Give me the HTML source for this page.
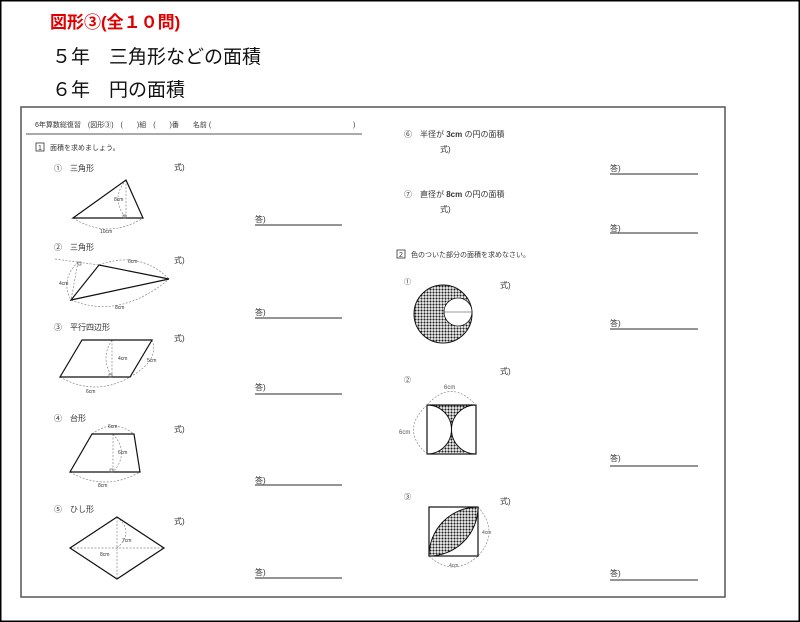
<!DOCTYPE html>
<html><head><meta charset="utf-8"><style>
html,body{margin:0;padding:0;background:#fff;}
svg{display:block;}
text{font-family:"Liberation Sans","Noto Sans CJK JP",sans-serif;fill:#333;}
</style></head><body>
<svg width="800" height="622" viewBox="0 0 800 622" xmlns="http://www.w3.org/2000/svg">
<defs>
<pattern id="dots" width="3" height="3" patternUnits="userSpaceOnUse">
<rect width="3" height="3" fill="#fff"/><circle cx="1.5" cy="1.5" r="1.1" fill="#222"/>
</pattern>
</defs>
<rect x="0.75" y="0.75" width="798.5" height="620.5" fill="none" stroke="#000" stroke-width="1.5"/>
<text x="50" y="28" font-size="17" font-weight="bold" style="fill:#e00000">図形③(全１０問)</text>
<text x="52" y="63" font-size="19" style="fill:#111">５年　三角形などの面積</text>
<text x="52" y="96" font-size="19" style="fill:#111">６年　円の面積</text>
<rect x="21" y="107" width="704" height="490" fill="none" stroke="#555" stroke-width="1.5"/>

<g font-size="7">
<text x="35" y="127">6年算数総復習　(図形③)　(　　)組　(　　)番　　名前 (</text>
<text x="353" y="127">)</text>
</g>
<line x1="26" y1="134" x2="362" y2="134" stroke="#777" stroke-width="1.2"/>
<rect x="36" y="143" width="8" height="8" fill="none" stroke="#333" stroke-width="0.8"/>
<text x="38" y="150" font-size="7">1</text>
<text x="50" y="150" font-size="7">面積を求めましょう。</text>

<g font-size="8">
<text x="54" y="171">①　三角形</text>
<text x="54" y="250">②　三角形</text>
<text x="54" y="330">③　平行四辺形</text>
<text x="54" y="421">④　台形</text>
<text x="54" y="512">⑤　ひし形</text>
<text x="174" y="170">式)</text>
<text x="174" y="263">式)</text>
<text x="174" y="341">式)</text>
<text x="174" y="432">式)</text>
<text x="174" y="524">式)</text>
<text x="255" y="222">答)</text>
<text x="255" y="315">答)</text>
<text x="255" y="390">答)</text>
<text x="255" y="483">答)</text>
<text x="255" y="575">答)</text>
</g>
<g stroke="#555" stroke-width="1.2">
<line x1="255" y1="225" x2="342" y2="225"/>
<line x1="255" y1="318" x2="342" y2="318"/>
<line x1="255" y1="394" x2="342" y2="394"/>
<line x1="255" y1="485" x2="342" y2="485"/>
<line x1="255" y1="578" x2="342" y2="578"/>
</g>

<g fill="none" stroke="#888" stroke-width="0.7" stroke-dasharray="2,1.5">
<line x1="126" y1="180" x2="126" y2="218"/>
<path d="M73,218 Q108,240 143,218"/>
<path d="M126,180 Q110,199 126,218"/>
<line x1="55" y1="259" x2="99" y2="265"/>
<line x1="78" y1="262" x2="71" y2="300"/>
<path d="M78,262 Q60,280 71,300"/>
<path d="M99,265 Q140,250 169,279"/>
<path d="M71,300 Q120,320 169,279"/>
<line x1="112" y1="340" x2="112" y2="377"/>
<path d="M112,340 Q100,358 112,377"/>
<path d="M152,340 Q160,360 130,377"/>
<path d="M60,377 Q95,397 130,377"/>
<line x1="113" y1="434" x2="113" y2="472"/>
<path d="M113,434 Q130,453 113,472"/>
<path d="M92,434 Q113,418 134,434"/>
<path d="M70,472 Q105,492 140,472"/>
<line x1="117" y1="517" x2="117" y2="579"/>
<line x1="70" y1="548" x2="164" y2="548"/>
<path d="M117,517 Q135,532 117,548"/>
</g>
<g fill="none" stroke="#111" stroke-width="1.2">
<polygon points="73,218 126,180 143,218"/>
<polygon points="99,265 169,279 71,300"/>
<polygon points="82,340 152,340 130,377 60,377"/>
<polygon points="92,434 134,434 140,472 70,472"/>
<polygon points="117,517 164,548 117,579 70,548"/>
</g>
<g fill="none" stroke="#555" stroke-width="0.6">
<rect x="123" y="215" width="3" height="3"/>
<rect x="78" y="262" width="3" height="3"/>
<rect x="109" y="374" width="3" height="3"/>
<rect x="110" y="469" width="3" height="3"/>
</g>
<g font-size="5" style="fill:#555">
<text x="114" y="201">8cm</text>
<text x="100" y="233">10cm</text>
<text x="128" y="263">6cm</text>
<text x="59" y="285">4cm</text>
<text x="115" y="309">8cm</text>
<text x="118" y="360">4cm</text>
<text x="147" y="362">5cm</text>
<text x="86" y="393">6cm</text>
<text x="108" y="428">6cm</text>
<text x="118" y="454">6cm</text>
<text x="98" y="487">8cm</text>
<text x="122" y="542">7cm</text>
<text x="100" y="556">8cm</text>
</g>

<g font-size="8">
<text x="404" y="137">⑥　半径が <tspan font-weight="bold">3cm</tspan> の円の面積</text>
<text x="440" y="152">式)</text>
<text x="404" y="197">⑦　直径が <tspan font-weight="bold">8cm</tspan> の円の面積</text>
<text x="440" y="212">式)</text>
<text x="610" y="171">答)</text>
<text x="610" y="231">答)</text>
<text x="610" y="326">答)</text>
<text x="610" y="461">答)</text>
<text x="610" y="576">答)</text>
<text x="500" y="288">式)</text>
<text x="500" y="374">式)</text>
<text x="500" y="504">式)</text>
</g>
<g stroke="#555" stroke-width="1.2">
<line x1="610" y1="174" x2="698" y2="174"/>
<line x1="610" y1="233" x2="698" y2="233"/>
<line x1="610" y1="329" x2="698" y2="329"/>
<line x1="610" y1="466" x2="698" y2="466"/>
<line x1="610" y1="580" x2="698" y2="580"/>
</g>
<rect x="397" y="250" width="8" height="8" fill="none" stroke="#333" stroke-width="0.8"/>
<text x="399" y="257" font-size="7">2</text>
<text x="411" y="257" font-size="7">色のついた部分の面積を求めなさい。</text>
<g font-size="7">
<text x="404" y="284">①</text>
<text x="404" y="382">②</text>
<text x="404" y="499">③</text>
</g>

<circle cx="443" cy="314" r="29" fill="url(#dots)" stroke="#111" stroke-width="1"/>
<circle cx="458" cy="312" r="14" fill="#fff" stroke="#111" stroke-width="0.8"/>
<line x1="444" y1="312" x2="472" y2="312" stroke="#333" stroke-width="0.6"/>

<rect x="427" y="405" width="49" height="49" fill="url(#dots)"/>
<path d="M427,405 A24.5,24.5 0 0 1 427,454 Z M476,405 A24.5,24.5 0 0 0 476,454 Z" fill="#fff" stroke="#111" stroke-width="1"/>
<rect x="427" y="405" width="49" height="49" fill="none" stroke="#111" stroke-width="1.2"/>
<g fill="none" stroke="#888" stroke-width="0.7" stroke-dasharray="2,1.5">
<path d="M427,405 Q451,378 476,405"/>
<path d="M427,405 Q400,430 427,454"/>
<path d="M478,507 Q500,532 478,556"/>
<path d="M429,556 Q453,578 478,556"/>
</g>
<text x="444" y="389" font-size="6" style="fill:#555">6cm</text>
<text x="399" y="434" font-size="6" style="fill:#555">6cm</text>

<rect x="429" y="507" width="49" height="49" fill="none" stroke="#111" stroke-width="1.2"/>
<path d="M429,556 A49,49 0 0 1 478,507 A49,49 0 0 1 429,556 Z" fill="url(#dots)" stroke="#111" stroke-width="1"/>
<text x="482" y="534" font-size="5" style="fill:#555">4cm</text>
<text x="449" y="567" font-size="5" style="fill:#555">4cm</text>
</svg>
</body></html>
